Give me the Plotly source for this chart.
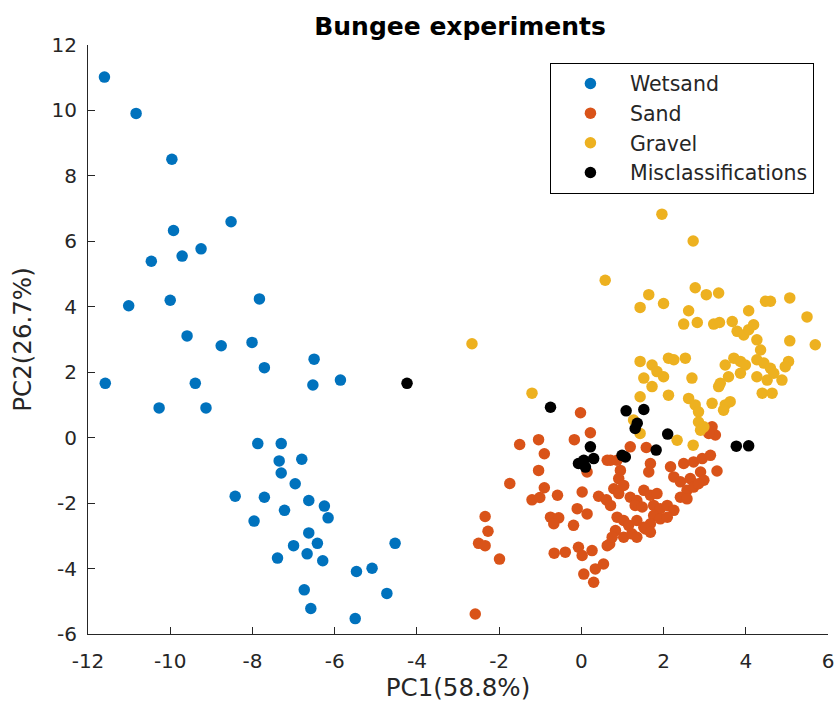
import plotly.graph_objects as go

# PCA scores (PC1, PC2) per class
wetsand_pc1 = [-11.60, -10.83, -9.96, -9.92, -8.52, -10.46, -9.71, -9.25, -11.01, -10.00, -7.83,
               -9.59, -8.76, -8.01, -6.50, -7.71, -11.58, -9.39, -6.53, -5.86, -10.27, -9.13,
               -7.87, -7.30, -7.35, -6.80, -7.30, -6.96, -8.42, -7.71, -6.63, -6.25, -7.22,
               -6.16, -7.96, -6.63, -6.42, -7.00, -4.53, -7.39, -6.67, -6.29, -5.47, -5.09,
               -4.73, -6.74, -6.58, -5.50]
wetsand_pc2 = [11.02, 9.91, 8.51, 6.33, 6.60, 5.39, 5.55, 5.77, 4.03, 4.20, 4.24,
               3.11, 2.81, 2.91, 2.40, 2.14, 1.66, 1.66, 1.61, 1.76, 0.91, 0.91,
               -0.18, -0.18, -0.71, -0.66, -1.08, -1.41, -1.79, -1.82, -1.92, -2.09, -2.22,
               -2.45, -2.55, -2.91, -3.23, -3.30, -3.23, -3.68, -3.55, -3.76, -4.09, -3.99,
               -4.76, -4.65, -5.22, -5.53]

sand_pc1 = [-0.02, 0.22, -1.50, -1.04, -0.17, -0.90, 0.14, 0.63, -1.04, -1.74, -0.90, -1.20, -1.01,
            -0.58, 0.02, 0.42, 0.61, -0.10, 0.14, -0.75, -0.55, -0.67, -0.19, -2.34, -2.27,
            -2.50, -2.34, -1.99, -0.66, -0.39, -0.07, 0.02, 0.26, 0.63, 0.34, 0.54, 0.06, 0.30, -2.58,
            1.19, 1.58, 0.71, 1.68, 1.64, 0.95, 0.91, 2.17, 2.49, 2.73, 2.94, 3.14, 3.30,
            2.25, 2.41, 2.65, 2.90, 2.98, 2.57, 2.73, 2.85, 2.41, 2.57, 0.79, 0.91, 1.03, 0.71,
            1.19, 1.35, 1.52, 1.68, 1.84, 1.31, 1.48, 1.76, 1.92, 2.09, 2.25, 1.76, 1.92, 2.09,
            0.87, 1.03, 1.15, 1.35, 1.52, 1.68, 0.83, 1.03, 1.23, 1.35, 1.56, 1.68, 0.69, 0.75,
            3.18, 3.26, 3.10, 0.87]
sand_pc2 = [0.76, 0.15, -0.21, -0.06, -0.06, -0.49, -1.05, -0.69, -1.00, -1.40, -1.53, -1.90, -1.83,
            -1.76, -1.66, -1.79, -1.90, -2.17, -2.33, -2.43, -2.45, -2.63, -2.68, -2.41, -2.86,
            -3.23, -3.30, -3.71, -3.53, -3.50, -3.35, -3.60, -3.45, -3.30, -4.01, -3.86, -4.17, -4.42, -5.39,
            -0.28, -0.30, -0.69, -0.79, -1.05, -1.00, -1.25, -0.89, -0.79, -0.74, -0.64, -0.54, -1.02,
            -1.20, -1.35, -1.25, -1.05, -1.30, -1.61, -1.51, -1.41, -1.82, -1.87, -1.56, -1.71, -1.46, -2.07,
            -1.82, -1.92, -1.61, -1.76, -1.71, -2.07, -2.12, -2.07, -2.17, -2.07, -2.22, -2.38, -2.48, -2.43,
            -2.43, -2.53, -2.68, -2.53, -2.74, -2.63, -2.84, -3.04, -2.94, -3.04, -2.79, -2.89, -3.25, -3.04,
            0.33, 0.08, 0.13, -0.69]

gravel_pc1 = [1.96, 2.72, 0.58, -2.66, -1.20,
              1.64, 1.43, 2.00, 2.77, 3.04, 3.34, 2.61,
              2.49, 2.82, 3.22, 3.36, 3.67, 3.79, 3.95, 4.07, 4.19,
              4.07, 4.48, 4.60, 5.07, 5.49, 5.69, 5.07,
              4.27, 4.36, 4.27, 4.44, 4.60, 5.04, 4.96,
              4.27, 4.52, 4.68, 4.88, 4.40, 4.64,
              3.71, 3.87, 3.99, 3.50, 3.58, 3.87, 3.38, 3.34,
              1.43, 1.72, 1.84, 2.00, 1.52, 1.72,
              2.12, 2.25, 2.53, 2.69, 2.12, 1.43,
              2.61, 2.77, 2.85, 3.18, 3.50, 3.62, 3.46,
              2.85, 2.98, 2.33, 2.72, 2.90, 1.43, 1.27]
gravel_pc2 = [6.83, 6.01, 4.81, 2.87, 1.36,
              4.37, 3.98, 4.10, 4.58, 4.37, 4.42, 3.88,
              3.47, 3.52, 3.47, 3.52, 3.55, 3.25, 3.14, 3.30, 3.45,
              3.88, 4.17, 4.17, 4.27, 3.69, 2.84, 2.96,
              2.99, 2.68, 2.38, 2.28, 2.12, 2.33, 2.17,
              1.86, 1.76, 1.97, 1.76, 1.36, 1.36,
              2.43, 2.33, 2.22, 2.22, 1.86, 1.97, 1.66, 1.56,
              2.33, 2.22, 2.02, 1.86, 1.82, 1.56,
              2.43, 2.38, 2.43, 1.82, 1.30, 1.25,
              1.20, 1.00, 0.79, 1.05, 1.00, 1.10, 0.84,
              0.48, 0.33, -0.08, -0.23, 0.23, 0.13, 0.54]

miscl_pc1 = [-4.24, -0.75, 1.09, 1.52, 1.36, 1.31, 2.10, 1.82, 1.07, 0.99,
             0.22, 0.06, -0.07, 0.30, 0.10, 3.77, 4.07]
miscl_pc2 = [1.66, 0.93, 0.82, 0.86, 0.44, 0.28, 0.11, -0.38, -0.59, -0.54,
             -0.28, -0.69, -0.79, -0.64, -0.90, -0.26, -0.25]

x_ticks = [-12, -10, -8, -6, -4, -2, 0, 2, 4, 6]
y_ticks = [-6, -4, -2, 0, 2, 4, 6, 8, 10, 12]

FONT = "DejaVu Sans"
INK = "#262626"
MSIZE = 11.5

series = [
    ("Wetsand", wetsand_pc1, wetsand_pc2, "#0072BD"),
    ("Sand", sand_pc1, sand_pc2, "#D95319"),
    ("Gravel", gravel_pc1, gravel_pc2, "#EDB120"),
    ("Misclassifications", miscl_pc1, miscl_pc2, "#000000"),
]

fig = go.Figure()
for name, xs, ys, col in series:
    fig.add_trace(go.Scatter(
        x=xs, y=ys, mode="markers", name=name,
        marker=dict(size=MSIZE, color=col, line=dict(width=0)),
    ))

axis_common = dict(
    showgrid=False, zeroline=False, showline=True, linecolor=INK, linewidth=1,
    ticks="inside", ticklen=7, tickwidth=1, tickcolor=INK, mirror=False,
    tickfont=dict(family=FONT, size=20, color=INK), automargin=False,
)

fig.update_layout(
    width=838, height=702,
    margin=dict(l=88, r=10, t=45, b=68, autoexpand=False),
    paper_bgcolor="white", plot_bgcolor="white",
    title=dict(text="<b>Bungee experiments</b>", x=0.549, xanchor="center",
               y=0.962, yanchor="middle",
               font=dict(family=FONT, size=25, color="#000000")),
    xaxis=dict(range=[-12, 6], tickvals=x_ticks, ticktext=[str(v) for v in x_ticks],
               ticklabelstandoff=9,
               title=dict(text="PC1(58.8%)", font=dict(family=FONT, size=24.5, color=INK), standoff=13),
               **axis_common),
    yaxis=dict(range=[-6, 12], tickvals=y_ticks, ticktext=[str(v) for v in y_ticks],
               ticklabelstandoff=6,
               title=dict(text="PC2(26.7%)", font=dict(family=FONT, size=24.5, color=INK), standoff=12),
               **axis_common),
    legend=dict(x=0.981, y=0.97, xanchor="right", yanchor="top",
                bgcolor="white", bordercolor="#000000", borderwidth=1,
                font=dict(family=FONT, size=20.5, color=INK),
                itemwidth=69, tracegroupgap=0),
    showlegend=True,
)

fig.write_html("out.html")
